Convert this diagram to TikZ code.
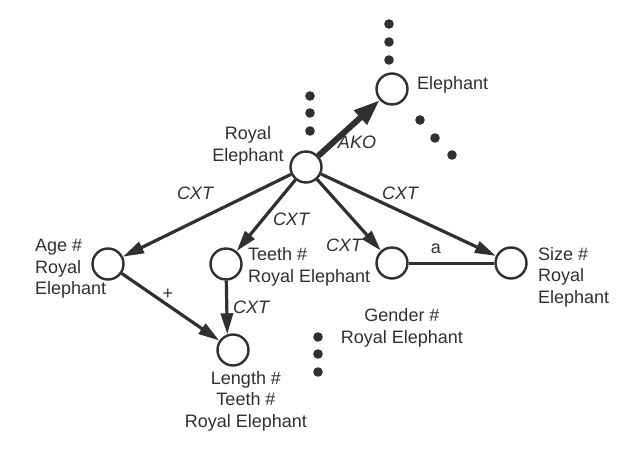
\documentclass[tikz,border=0pt]{standalone}
\usepackage{fontspec}
\setmainfont{Liberation Sans}
\usetikzlibrary{arrows.meta}
\definecolor{ink}{HTML}{303030}
\begin{document}
\begin{tikzpicture}[x=1pt,y=-1pt,
  concept/.style={circle,draw=ink,line width=2.4pt,minimum size=31pt,inner sep=0pt},
  lbl/.style={text=ink,font=\fontsize{18}{21.5}\selectfont,inner sep=0pt},
  rel/.style={lbl,font=\fontsize{18}{21.5}\selectfont\itshape},
  link/.style={draw=ink,line width=3.2pt,-{Triangle[length=21pt,width=12pt]}},
  ako/.style={draw=ink,line width=6pt,-{Triangle[length=26pt,width=18pt]}},
  plain/.style={draw=ink,line width=3pt},
  dotmark/.style={fill=ink}]
\useasboundingbox (0,0) rectangle (640,455);
% concept circles
\node[concept] (eleph) at (392,89) {};
\node[concept] (royal) at (306,167) {};
\node[concept] (age) at (108,264) {};
\node[concept] (teeth) at (226,264) {};
\node[concept] (length) at (233,350) {};
\node[concept] (gender) at (392,263) {};
\node[concept] (size) at (511,263) {};
% labels
\node[lbl,anchor=west] (telep) at (417,85) {Elephant};
\node[lbl,align=center] (troyal) at (248,146) {Royal\\Elephant};
\node[lbl,align=left,anchor=west] (tage) at (35,269) {Age \#\\Royal\\Elephant};
\node[lbl,align=left,anchor=west] (tteeth) at (248,267) {Teeth \#\\Royal Elephant};
\node[lbl,align=center] (tlength) at (246,401) {Length \#\\Teeth \#\\Royal Elephant};
\node[lbl,align=center] (tgender) at (402,328) {Gender \#\\Royal Elephant};
\node[lbl,align=left,anchor=west] (tsize) at (538,277) {Size \#\\Royal\\Elephant};
% connectors
\draw[ako] (royal) -- (eleph);
\draw[link] (royal) -- (age);
\draw[link] (royal) -- (teeth);
\draw[link] (royal) -- (gender);
\draw[link] (royal) -- (size);
\draw[link] (age) -- (length);
\draw[link] (teeth) -- (length.110);
\draw[plain] (gender) -- (size);
% connector labels
\node[rel] (lako) at (357,142) {AKO};
\node[rel] (lcxt1) at (195,193) {CXT};
\node[rel] (lcxt2) at (291,219) {CXT};
\node[rel] (lcxt3) at (400,193) {CXT};
\node[rel] (lcxt4) at (344,245) {CXT};
\node[rel,anchor=west] (lcxt5) at (233,307) {CXT};
\node[lbl] (lplus) at (168,294) {+};
\node[lbl] (la) at (436,249) {a};
% ellipsis dots
\foreach \p in {(389,24),(389,42),(389,60),(310,96),(310,113),(310,131),(420,120),(435,138),(452,155),(318,337),(318,354),(318,372)}
  \fill[dotmark] \p circle (4.8pt);
\end{tikzpicture}
\end{document}
